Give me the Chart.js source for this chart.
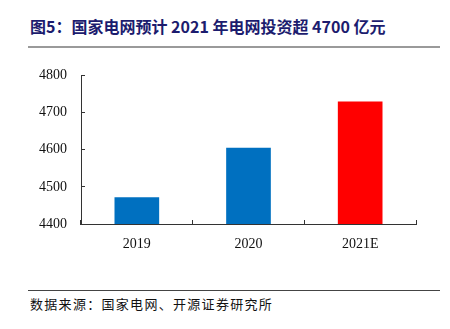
<!DOCTYPE html>
<html>
<head>
<meta charset="utf-8">
<script src="https://cdn.jsdelivr.net/npm/chart.js@4/dist/chart.umd.min.js"></script>
<style>
  body { margin: 0; width: 450px; height: 329px; background: #fff; position: relative; overflow: hidden; }
  #title { position: absolute; left: 30px; top: 14px; font: bold 16px "Noto Sans CJK SC", sans-serif; color: #1c1c6e; white-space: nowrap; }
  #topline { position: absolute; left: 28px; top: 46px; width: 412px; height: 2px; background: #9a9a9a; }
  #wrap { position: absolute; left: 0; top: 49px; width: 450px; height: 241px; }
  #botline { position: absolute; left: 28px; top: 290px; width: 412px; height: 1px; background: #444; }
  #source { position: absolute; left: 30px; top: 294px; font: 13px "Noto Sans CJK SC", sans-serif; letter-spacing: 1.3px; color: #111; white-space: nowrap; }
</style>
</head>
<body>
<div id="title">图5：国家电网预计 2021 年电网投资超 4700 亿元</div>
<div id="topline"></div>
<div id="wrap"><canvas id="chart"></canvas></div>
<div id="botline"></div>
<div id="source">数据来源：国家电网、开源证券研究所</div>
<script>
var years = ['2019', '2020', '2021E'];
var investment = [4472, 4605, 4730];
var barColors = ['#0070C0', '#0070C0', '#FF0000'];
var yMin = 4400, yMax = 4800, yStep = 100;

var ctx = document.getElementById('chart').getContext('2d');
var chart = new Chart(ctx, {
    type: 'bar',
    data: {
        labels: years,
        datasets: [{
            data: investment,
            backgroundColor: barColors,
            barPercentage: 0.4,
            categoryPercentage: 1.0
        }]
    },
    options: {
        responsive: true,
        maintainAspectRatio: false,
        animation: false,
        layout: { padding: { top: 13, right: 34, left: 0, bottom: 0 } },
        plugins: { legend: { display: false }, tooltip: { enabled: false } },
        scales: {
            x: {
                afterFit: function(scale) { scale.height = 66; },
                grid: { drawOnChartArea: false, tickLength: -4, color: '#333', offset: true },
                border: { color: '#333', width: 1 },
                ticks: { padding: 16, color: '#111', font: { family: 'Liberation Serif', size: 14 } }
            },
            y: {
                min: yMin,
                max: yMax,
                afterFit: function(scale) { scale.width = 81; },
                grid: { drawOnChartArea: false, tickLength: -4, color: '#333' },
                border: { color: '#333', width: 1 },
                ticks: {
                    stepSize: yStep, padding: 18, color: '#111',
                    font: { family: 'Liberation Serif', size: 14 },
                    callback: function(v) { return String(v); }
                }
            }
        }
    }
});
</script>
</body>
</html>
